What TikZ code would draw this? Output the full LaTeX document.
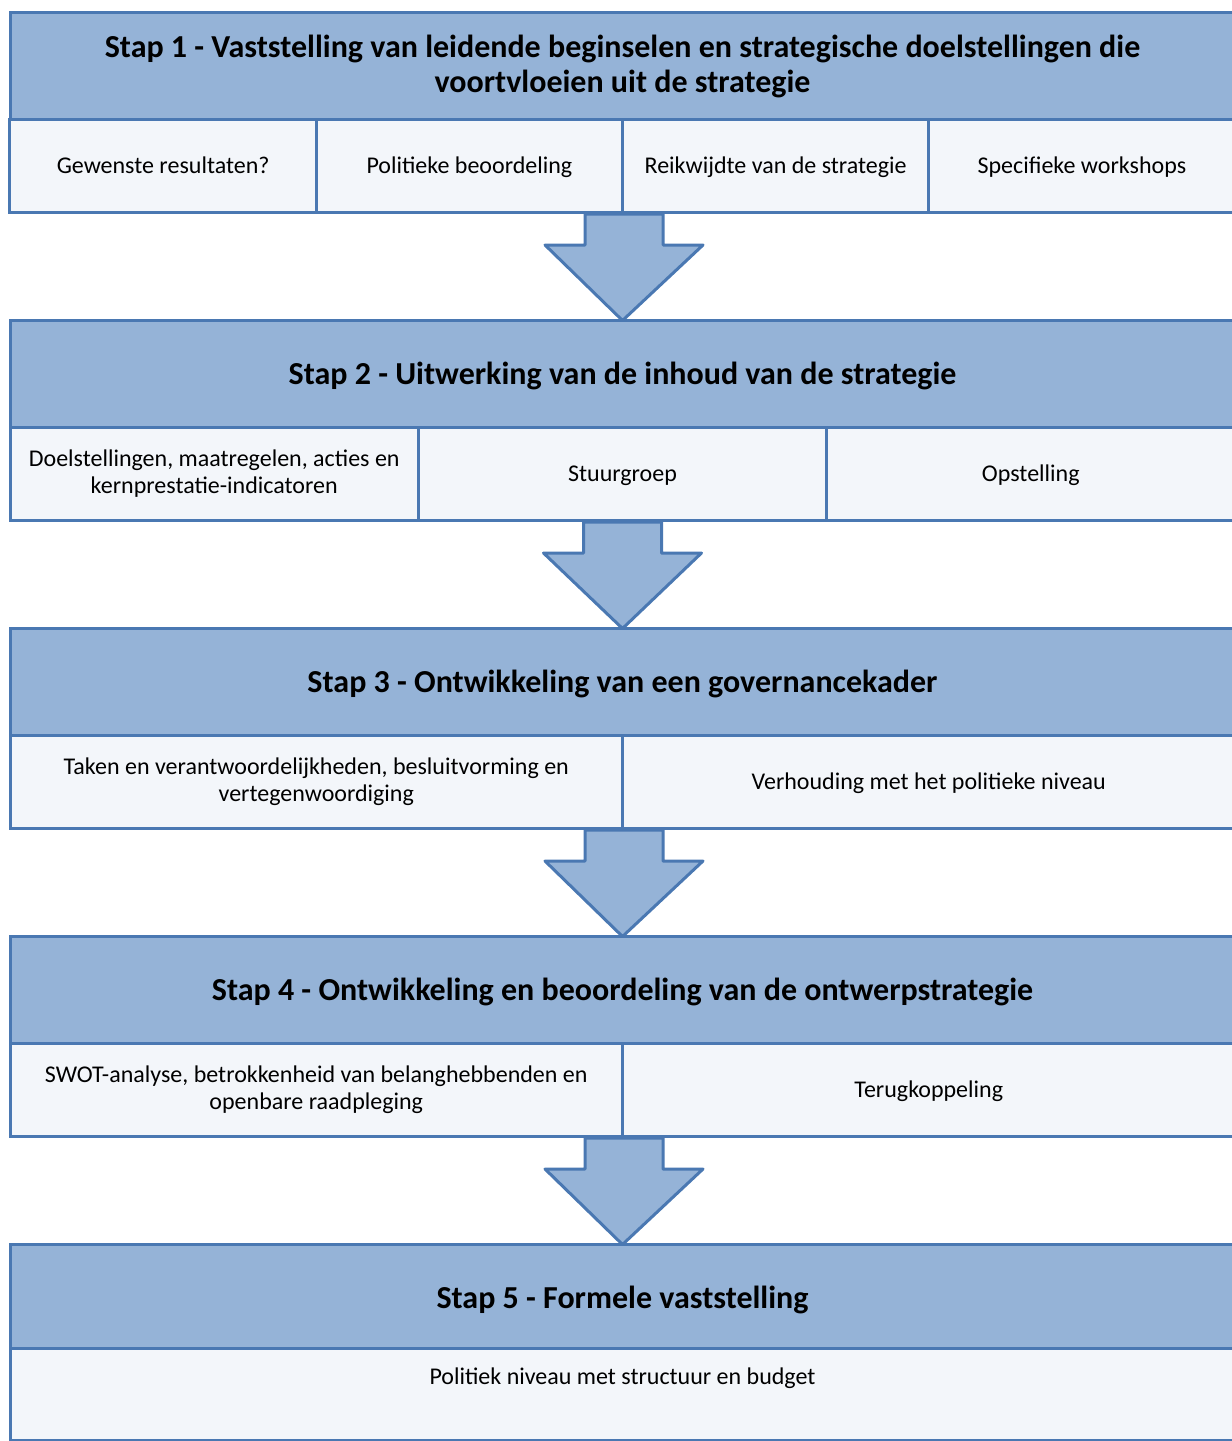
\documentclass[tikz,border=0pt]{standalone}
\usepackage{fontspec}
\setmainfont{Carlito}
\usetikzlibrary{calc}

\definecolor{edgeblue}{HTML}{4A78B2}
\definecolor{headfill}{HTML}{95B3D7}
\definecolor{subfill}{HTML}{F3F6FA}

\tikzset{
  hdr/.style={draw=edgeblue, fill=headfill, line width=3pt, minimum height=108pt,
    minimum width=1225pt, inner sep=0pt, align=center,
    font=\fontsize{32}{35}\selectfont\bfseries},
  subbox/.style={draw=edgeblue, fill=subfill, line width=3pt, minimum height=93pt,
    inner sep=0pt, align=center, font=\fontsize{24}{27}\selectfont},
  % single-line texts sit on a fixed baseline
  hdrline/.style={text height=24pt, text depth=4pt},
  subline/.style={text height=19pt, text depth=4pt},
  arrowshape/.style={draw=edgeblue, fill=headfill, line width=3pt, line join=round},
}

% down arrow from the bottom of one step (#1) to the top of the next (#2)
\newcommand\steparrow[2]{%
  \draw[arrowshape] ($(#1)+(-39,0)$) -- ++(0,31) -- ++(-40,0) -- ($(#2)+(0,2)$)
    -- ($(#1)+(79,31)$) -- ++(-40,0) -- ($(#1)+(39,0)$) -- cycle;}

\begin{document}
\begin{tikzpicture}[x=1pt,y=-1pt]
\useasboundingbox (0,0) rectangle (1232,1441);

% Step 1
\node[hdr] (h1) at (622.5,66) {Stap 1 - Vaststelling van leidende beginselen en strategische doelstellingen die\\voortvloeien uit de strategie};
\node[subbox, subline, minimum width=306.25pt] (s1a) at (163.1,166) {Gewenste resultaten?};
\node[subbox, subline, minimum width=306.25pt] (s1b) at (469.4,166) {Politieke beoordeling};
\node[subbox, subline, minimum width=306.25pt] (s1c) at (775.6,166) {Reikwijdte van de strategie};
\node[subbox, subline, minimum width=306.25pt] (s1d) at (1081.9,166) {Specifieke workshops};

% Step 2
\node[hdr, hdrline] (h2) at (622.5,374) {Stap 2 - Uitwerking van de inhoud van de strategie};
\node[subbox, minimum width=408.33pt] (s2a) at (214.2,474) {Doelstellingen, maatregelen, acties en\\kernprestatie-indicatoren};
\node[subbox, subline, minimum width=408.33pt] (s2b) at (622.5,474) {Stuurgroep};
\node[subbox, subline, minimum width=408.33pt] (s2c) at (1030.8,474) {Opstelling};

% Step 3
\node[hdr, hdrline] (h3) at (622.5,682) {Stap 3 - Ontwikkeling van een governancekader};
\node[subbox, minimum width=612.5pt] (s3a) at (316.25,782) {Taken en verantwoordelijkheden, besluitvorming en\\vertegenwoordiging};
\node[subbox, subline, minimum width=612.5pt] (s3b) at (928.75,782) {Verhouding met het politieke niveau};

% Step 4
\node[hdr, hdrline] (h4) at (622.5,990) {Stap 4 - Ontwikkeling en beoordeling van de ontwerpstrategie};
\node[subbox, minimum width=612.5pt] (s4a) at (316.25,1090) {SWOT-analyse, betrokkenheid van belanghebbenden en\\openbare raadpleging};
\node[subbox, subline, minimum width=612.5pt] (s4b) at (928.75,1090) {Terugkoppeling};

% Step 5
\node[hdr, hdrline] (h5) at (622.5,1298) {Stap 5 - Formele vaststelling};
\node[subbox, minimum width=1225pt, minimum height=92pt] (s5a) at (622.5,1394) {};
\node[font=\fontsize{24}{27}\selectfont, inner sep=0pt, subline] (s5t) at (622.5,1377) {Politiek niveau met structuur en budget};

% Arrows between the steps
\coordinate (a1) at (s1b.south east);
\coordinate (a2) at (s2b.south);
\coordinate (a3) at (s3a.south east);
\coordinate (a4) at (s4a.south east);
\steparrow{a1}{h2.north}
\steparrow{a2}{h3.north}
\steparrow{a3}{h4.north}
\steparrow{a4}{h5.north}
\end{tikzpicture}
\end{document}
